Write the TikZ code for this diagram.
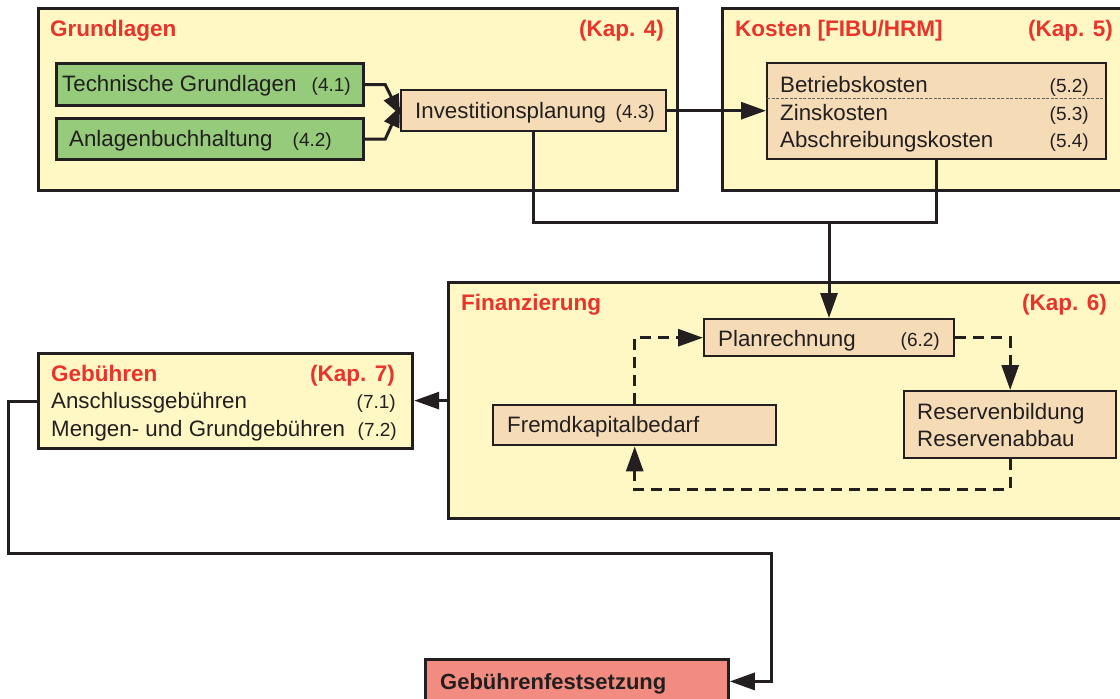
\documentclass[tikz,border=0pt]{standalone}
\usepackage{fontspec}
\setmainfont{Liberation Sans}
\usetikzlibrary{arrows.meta}
\definecolor{paleyellow}{RGB}{255,248,196}
\definecolor{boxgreen}{RGB}{149,203,122}
\definecolor{peach}{RGB}{245,220,183}
\definecolor{titlered}{RGB}{232,52,42}
\definecolor{salmon}{RGB}{242,140,128}
\definecolor{ink}{RGB}{35,31,32}
\tikzset{
  region/.style={draw=ink, line width=3.2pt, fill=paleyellow, anchor=north west, inner sep=0pt},
  greenbox/.style={draw=ink, line width=3.2pt, fill=boxgreen, anchor=north west, inner sep=0pt},
  peachbox/.style={draw=ink, line width=2.4pt, fill=peach, anchor=north west, inner sep=0pt},
  redbox/.style={draw=ink, line width=2.8pt, fill=salmon, anchor=north west, inner sep=0pt},
  ttl/.style={text=titlered, font=\fontsize{22.5}{26}\selectfont\bfseries, inner sep=0pt},
  txt/.style={text=ink, font=\fontsize{22.3}{26}\selectfont, inner sep=0pt, anchor=base west},
  num/.style={text=ink, font=\fontsize{19}{22}\selectfont, inner sep=0pt, anchor=base east},
  conn/.style={draw=ink, line width=3pt},
  tip/.style={-{Triangle[length=25pt,width=17pt]}},
  dconn/.style={draw=ink, line width=3pt, dash pattern=on 11pt off 7pt}
}
\begin{document}
\begin{tikzpicture}[x=1pt,y=-1pt]
\useasboundingbox (0,0) rectangle (1120,699);
\clip (0,0) rectangle (1120,699);
\fill[white] (0,0) rectangle (1120,699);

% regions
\node[region, minimum width=639pt, minimum height=182pt] (grund) at (37,7) {};
\node[region, minimum width=420pt, minimum height=182pt] (kost) at (721,7) {};
\node[region, minimum width=700pt, minimum height=236pt] (fin) at (447,281) {};
\node[region, minimum width=374pt, minimum height=95pt] (geb) at (37,352) {};

% Grundlagen
\node[ttl, anchor=base west] (tgrund) at (50,36) {Grundlagen};
\node[ttl, anchor=base east] (kgrund) at (664,36) {(Kap. 4)};
\node[greenbox, minimum width=307pt, minimum height=42pt] (tg) at (55,62) {};
\node[txt] (ttg) at (62,91) {Technische Grundlagen};
\node[num] (ntg) at (351,91) {(4.1)};
\node[greenbox, minimum width=307pt, minimum height=41pt] (ab) at (55,117) {};
\node[txt] (tab) at (69,146) {Anlagenbuchhaltung};
\node[num] (nab) at (332,146) {(4.2)};
\node[peachbox, minimum width=265pt, minimum height=41pt] (inv) at (400,89) {};
\node[txt] (tinv) at (415,118) {Investitionsplanung};
\node[num] (ninv) at (655,118) {(4.3)};

% Kosten
\node[ttl, anchor=base west] (tkost) at (735,36) {Kosten [FIBU/HRM]};
\node[ttl, anchor=base east] (kkost) at (1113,36) {(Kap. 5)};
\node[peachbox, minimum width=339pt, minimum height=96pt] (kin) at (766,62) {};
\node[txt] (t52) at (780,92) {Betriebskosten};
\node[num] (n52) at (1089,92) {(5.2)};
\node[txt] (t53) at (780,120) {Zinskosten};
\node[num] (n53) at (1089,120) {(5.3)};
\node[txt] (t54) at (780,147) {Abschreibungskosten};
\node[num] (n54) at (1089,147) {(5.4)};
\coordinate (sepL) at (767,98);
\coordinate (sepR) at (1104,98);
\draw[ink!70, line width=0.8pt, dash pattern=on 3pt off 1.5pt] (sepL) -- (sepR);

% Finanzierung
\node[ttl, anchor=base west] (tfin) at (461,310) {Finanzierung};
\node[ttl, anchor=base east] (kfin) at (1107,310) {(Kap. 6)};
\node[peachbox, minimum width=250pt, minimum height=37pt] (plan) at (703,318) {};
\node[txt] (tplan) at (718,346) {Planrechnung};
\node[num] (nplan) at (940,346) {(6.2)};
\node[peachbox, minimum width=212pt, minimum height=67pt] (res) at (903,390) {};
\node[txt] (tres1) at (917,419) {Reservenbildung};
\node[txt] (tres2) at (917,446) {Reservenabbau};
\node[peachbox, minimum width=283pt, minimum height=40pt] (fremd) at (492,404) {};
\node[txt] (tfremd) at (507,432) {Fremdkapitalbedarf};

% Gebuehren
\node[ttl, anchor=base west] (tgeb) at (51,381) {Gebühren};
\node[ttl, anchor=base east] (kgeb) at (395,381) {(Kap. 7)};
\node[txt] (t71) at (51,408) {Anschlussgebühren};
\node[num] (n71) at (396,408) {(7.1)};
\node[txt] (t72) at (51,436) {Mengen- und Grundgebühren};
\node[num] (n72) at (397,436) {(7.2)};

% Gebuehrenfestsetzung
\node[redbox, minimum width=303pt, minimum height=44pt] (fest) at (424,658) {};
\node[txt, font=\fontsize{22}{26}\selectfont\bfseries] (tfest) at (440,689) {Gebührenfestsetzung};

% connectors
\draw[conn, -{Triangle[length=20pt,width=16pt]}] (tg.east) -- ++(20,0) -- ([yshift=-4pt]inv.west);
\draw[conn, -{Triangle[length=20pt,width=16pt]}] (ab.east) -- ++(20,0) -- ([yshift=4pt]inv.west);
\draw[conn, tip] (inv.east) -- (inv.east -| kin.west);
\coordinate (join) at (829,222);
\draw[conn] (inv.south) |- (join);
\draw[conn] (kin.south) |- (join);
\draw[conn, tip] (join) -- (join |- plan.north);
\draw[dconn, tip] (fremd.north) |- (plan.west);
\draw[dconn, tip] (plan.east) -| (res.north);
\draw[dconn, tip] (res.south) -- ++(0,30) -| (fremd.south);
\draw[conn, tip] (fin.west) -- (fin.west -| geb.east);
\coordinate (g1) at (8,553);
\coordinate (g2) at (771,553);
\draw[conn, tip] (geb.west) -| (g1) -- (g2) |- (fest.east);
\end{tikzpicture}
\end{document}
